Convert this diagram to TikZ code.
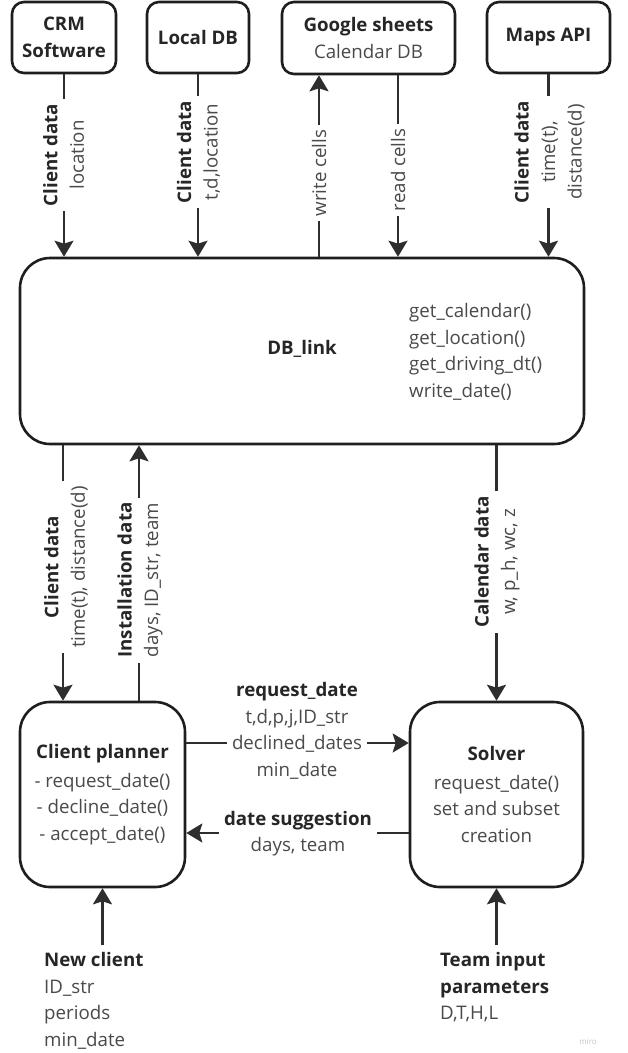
\documentclass[tikz,border=0pt]{standalone}
\usepackage{fontspec}
\setmainfont{Open Sans}
\usetikzlibrary{arrows.meta}
\definecolor{boxc}{HTML}{1E1E1E}
\definecolor{linec}{HTML}{2E2E2E}
\definecolor{boldc}{HTML}{262626}
\definecolor{txtc}{HTML}{4A4A4A}
\definecolor{miroc}{HTML}{C8C8C8}
\newcommand{\fs}{\fontsize{18.7}{26.5}\selectfont}
\newcommand{\hb}[1]{\textbf{\textcolor{boldc}{#1}}}
\tikzset{
  box/.style={draw=boxc, line width=2.6pt, rounded corners=12pt, fill=white,
    align=center, text=txtc, font=\fs, inner sep=0pt},
  bigbox/.style={box, rounded corners=30pt},
  arr/.style={draw=linec, line width=2.3pt, -{Stealth[length=16pt,width=19pt,inset=3pt]}},
  lbl/.style={fill=white, inner xsep=5pt, inner ysep=1pt, align=center,
    text=txtc, font=\fs},
  vl/.style={lbl, rotate=90},
  plain/.style={inner sep=0pt, align=left, text=txtc, font=\fs}
}
\begin{document}
\begin{tikzpicture}[x=1pt,y=-1pt]
\fill[white] (0,0) rectangle (627,1053);
\useasboundingbox (0,0) rectangle (627,1053);

% top boxes
\node[box, minimum width=104pt, minimum height=71pt] (crm) at (64,37.5) {\hb{CRM}\\\hb{Software}};
\node[box, minimum width=102pt, minimum height=71pt] (local) at (198,37.5) {\hb{Local DB}};
\node[box, minimum width=173pt, minimum height=72pt] (google) at (368.5,38) {\hb{Google sheets}\\[1pt]Calendar DB};
\node[box, minimum width=123pt, minimum height=71pt] (maps) at (548.5,37.5) {\hb{Maps API}};

% big boxes
\node[bigbox, minimum width=564pt, minimum height=186pt] (dblink) at (302,351) {};
\node[font=\fs, inner sep=0pt] (dbt) at (302,349) {\hb{DB\_link}};
\node[plain, anchor=west] (dbf) at (409,352) {get\_calendar()\\get\_location()\\get\_driving\_dt()\\write\_date()};

\node[bigbox, minimum width=165pt, minimum height=185pt] (planner) at (102.5,794.5)
  {\hb{Client planner}\\[2pt]- request\_date()\\- decline\_date()\\- accept\_date()};
\node[bigbox, minimum width=173pt, minimum height=185pt] (solver) at (496.5,794.5)
  {\hb{Solver}\\[2pt]request\_date()\\set and subset\\creation};

% helper coordinates
\coordinate (xw) at (319,0);
\coordinate (xr) at (398,0);
\coordinate (xc) at (63,0);
\coordinate (xi) at (139,0);
\coordinate (yr) at (0,743);
\coordinate (yd) at (0,833);
\coordinate (ynew) at (0,945);

% connectors
\draw[arr] (crm.south) -- (crm.south |- dblink.north);
\draw[arr] (local.south) -- (local.south |- dblink.north);
\draw[arr] (xw |- dblink.north) -- (xw |- google.south);
\draw[arr] (xr |- google.south) -- (xr |- dblink.north);
\draw[arr] (maps.south) -- (maps.south |- dblink.north);
\draw[arr] (xc |- dblink.south) -- (xc |- planner.north);
\draw[arr] (xi |- planner.north) -- (xi |- dblink.south);
\draw[arr] (solver.north |- dblink.south) -- (solver.north);
\draw[arr] (planner.east |- yr) -- (solver.west |- yr);
\draw[arr] (solver.west |- yd) -- (planner.east |- yd);
\draw[arr] (planner.south |- ynew) -- (planner.south);
\draw[arr] (solver.south |- ynew) -- (solver.south);

% connector labels
\node[vl] (l1) at (63.5,155) {\hb{Client data}\\location};
\node[vl] (l2) at (198.5,152) {\hb{Client data}\\t,d,location};
\node[vl] (l3) at (319,173) {write cells};
\node[vl] (l4) at (398,170) {read cells};
\node[vl] (l5) at (549.5,152) {\hb{Client data}\\time(t),\\distance(d)};
\node[vl] (l6) at (66,567) {\hb{Client data}\\time(t), distance(d)};
\node[vl] (l7) at (140,580) {\hb{Installation data}\\days, ID\_str, team};
\node[vl] (l8) at (497,562) {\hb{Calendar data}\\w, p\_h, wc, z};
\node[lbl] (l9) at (297,731) {\hb{request\_date}\\t,d,p,j,ID\_str\\declined\_dates\\min\_date};
\node[lbl] (l10) at (298,833.5) {\hb{date suggestion}\\days, team};

% bottom inputs
\node[plain, anchor=west] (newc) at (44,1001) {\hb{New client}\\ID\_str\\periods\\min\_date};
\node[plain, anchor=west] (team) at (440,987.5) {\hb{Team input}\\\hb{parameters}\\D,T,H,L};
\node[text=miroc, font=\fontsize{8}{9}\selectfont, inner sep=0pt] (miro) at (588,1042) {miro};
\end{tikzpicture}
\end{document}
